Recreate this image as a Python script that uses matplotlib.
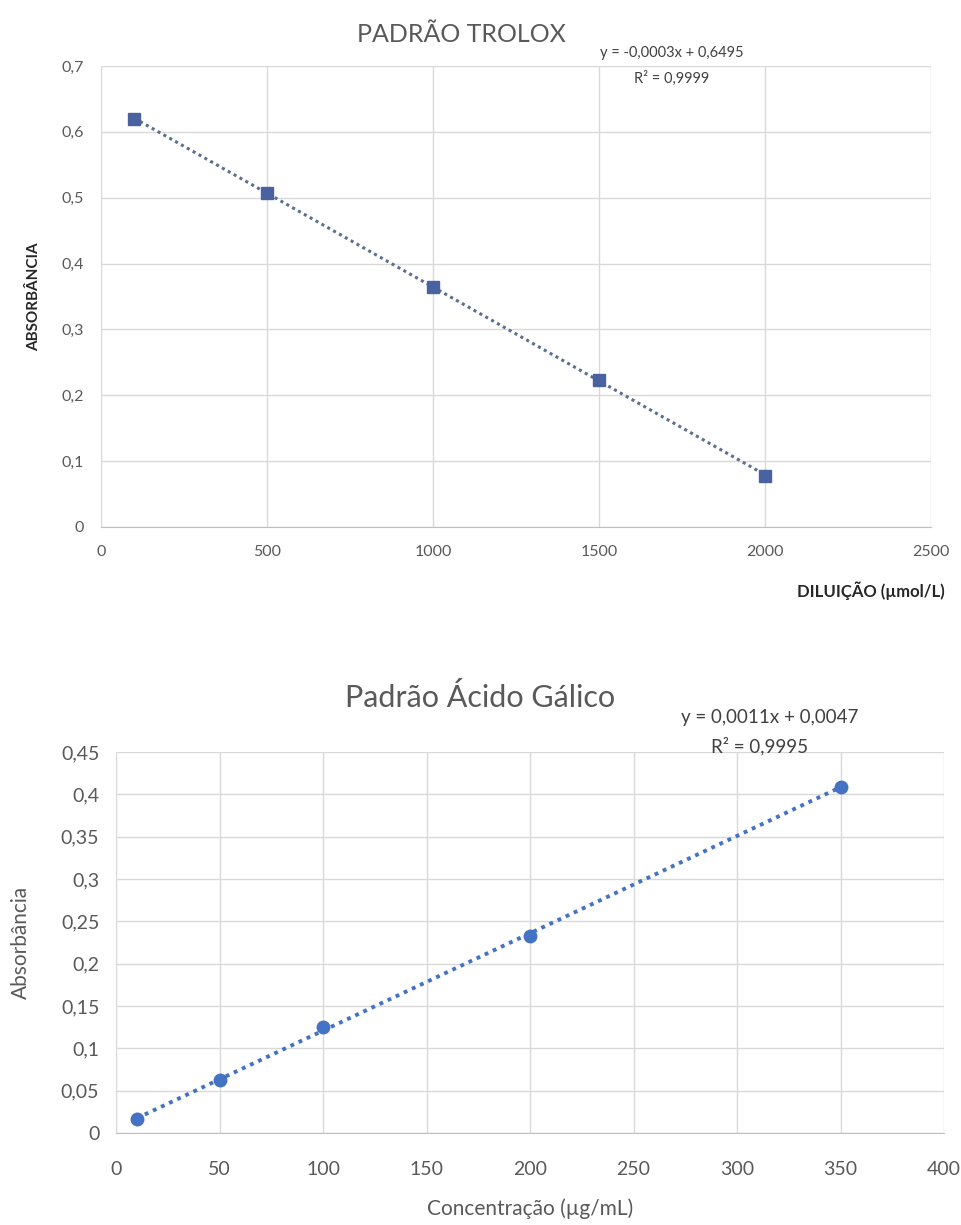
import matplotlib.pyplot as plt
import numpy as np
from matplotlib.ticker import FuncFormatter, MultipleLocator

# Trolox standard curve
trolox_x = [100, 500, 1000, 1500, 2000]
trolox_y = [0.620, 0.507, 0.365, 0.223, 0.078]
trolox_eq = "y = -0,0003x + 0,6495"
trolox_r2 = "R² = 0,9999"

# Gallic acid standard curve
galico_x = [10, 50, 100, 200, 350]
galico_y = [0.016, 0.063, 0.125, 0.233, 0.409]
galico_eq = "y = 0,0011x + 0,0047"
galico_r2 = "R² = 0,9995"

TXT = "#595959"
GRID = "#D9D9D9"


def virgula(v, pos):
    s = ("%.2f" % v).rstrip("0").rstrip(".")
    return s.replace(".", ",")


def estilo(ax, xmax, xstep, ymax, ystep, fs, xpad):
    ax.set_xlim(0, xmax)
    ax.set_ylim(0, ymax)
    ax.xaxis.set_major_locator(MultipleLocator(xstep))
    ax.yaxis.set_major_locator(MultipleLocator(ystep))
    ax.yaxis.set_major_formatter(FuncFormatter(virgula))
    ax.grid(True, color=GRID, lw=1)
    ax.set_axisbelow(True)
    for s in ["top", "right", "left"]:
        ax.spines[s].set_visible(False)
    ax.spines["bottom"].set_color("#BFBFBF")
    ax.tick_params(length=0, labelsize=fs, labelcolor=TXT)
    ax.tick_params(axis="y", pad=12)
    ax.tick_params(axis="x", pad=xpad)


plt.rcParams["font.family"] = ["Lato", "DejaVu Sans"]
fig = plt.figure(figsize=(9.62, 12.25), dpi=100)

# --- top chart ---
ax1 = fig.add_axes([0.105, 0.5698, 0.863, 0.3763])
estilo(ax1, 2500, 500, 0.7, 0.1, 11.5, 13)
a, b = np.polyfit(trolox_x, trolox_y, 1)
xs = np.array([trolox_x[0], trolox_x[-1]])
ax1.plot(xs, a * xs + b, ls=(0, (1, 1.2)), lw=2.2, color="#5B6F8F", zorder=2)
ax1.plot(trolox_x, trolox_y, "s", ms=8, color="#4A62A0", zorder=3)
fig.text(0.48, 0.972, "PADRÃO TROLOX", ha="center", va="center",
         fontsize=18, color=TXT)
fig.text(0.698, 0.957, trolox_eq, ha="center", va="center", fontsize=10.5, color="#404040")
fig.text(0.698, 0.936, trolox_r2, ha="center", va="center", fontsize=10.5, color="#404040")
fig.text(0.035, 0.758, "ABSORBÂNCIA", rotation=90, ha="center", va="center",
         fontsize=11, fontweight="bold", color="#262626")
fig.text(0.982, 0.518, "DILUIÇÃO (µmol/L)", ha="right", va="center",
         fontsize=12, fontweight="bold", color="#262626")

# --- bottom chart ---
ax2 = fig.add_axes([0.1206, 0.0751, 0.8607, 0.311])
estilo(ax2, 400, 50, 0.45, 0.05, 14, 20)
a, b = np.polyfit(galico_x, galico_y, 1)
xs = np.array([galico_x[0], galico_x[-1]])
ax2.plot(xs, a * xs + b, ls=(0, (1, 1.3)), lw=2.8, color="#4472C4", zorder=2)
ax2.plot(galico_x, galico_y, "o", ms=9, color="#4472C4", zorder=3)
fig.text(0.499, 0.431, "Padrão Ácido Gálico", ha="center", va="center",
         fontsize=22, color=TXT)
fig.text(0.80, 0.414, galico_eq, ha="center", va="center", fontsize=13.5, color="#404040")
fig.text(0.79, 0.391, galico_r2, ha="center", va="center", fontsize=13.5, color="#404040")
fig.text(0.022, 0.231, "Absorbância", rotation=90, ha="center", va="center",
         fontsize=15, color=TXT)
fig.text(0.551, 0.013, "Concentração (µg/mL)", ha="center", va="center",
         fontsize=15, color=TXT)

plt.savefig("out.png", dpi=100)
